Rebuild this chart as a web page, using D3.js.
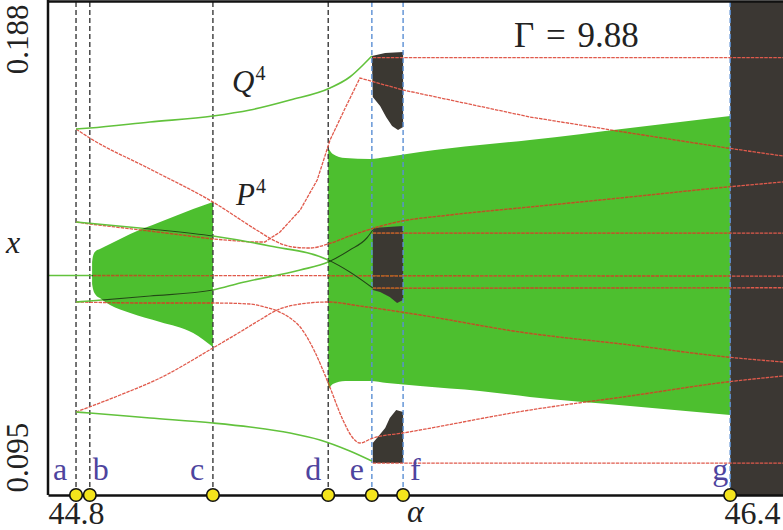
<!DOCTYPE html>
<html><head><meta charset="utf-8">
<script src="https://cdn.jsdelivr.net/npm/d3@7"></script>
<style>body{margin:0;background:#fff}svg{display:block}</style>
</head><body><svg id="c" width="783" height="530"></svg>
<script>
// ---------- data ----------
const alphaDomain = [44.8, 46.4];
const xDomain = [0.095, 0.188];
const xTickValues = [44.8, 46.4];
const yTickValues = [0.095, 0.188];
const markerNames = ["a","b","c","d","e","f","g"];
const markerAlpha = [44.861, 44.891, 45.159, 45.410, 45.505, 45.573, 46.285];
const markerBlue  = [false, false, false, false, true, true, true];
const gammaText = "Γ = 9.88";

// quasi-periodic band b–c
const band1Alpha = [44.896, 44.898, 44.904, 44.913, 44.935, 44.979, 45.044, 45.116, 45.159];
const band1Upper = [0.13895, 0.14009, 0.14103, 0.14141, 0.14235, 0.14424, 0.14650, 0.14895, 0.15027];
const band1Lower = [0.13480, 0.13386, 0.13273, 0.13216, 0.13084, 0.12933, 0.12764, 0.12556, 0.12292];

// quasi-periodic band d–g
const band2Alpha = [45.410, 45.420, 45.447, 45.501, 45.538, 45.610, 45.740, 45.849, 46.067, 46.285];
const band2Upper = [0.16046, 0.15933, 0.15857, 0.15838, 0.15876, 0.15970, 0.16102, 0.16197, 0.16423, 0.16650];
const band2Lower = [0.11481, 0.11594, 0.11651, 0.11651, 0.11613, 0.11556, 0.11462, 0.11349, 0.11179, 0.11009];

// chaotic patches e–f
const chaosTopAlpha = [45.505, 45.534, 45.573, 45.573, 45.562, 45.549, 45.536, 45.523, 45.507];
const chaosTopX     = [0.17781, 0.17838, 0.17857, 0.16442, 0.16385, 0.16461, 0.16631, 0.16838, 0.17008];
const chaosMidAlpha = [45.507, 45.573, 45.573, 45.560, 45.544, 45.523, 45.507];
const chaosMidX     = [0.14537, 0.14574, 0.13179, 0.13122, 0.13235, 0.13329, 0.13367];
const chaosLowAlpha = [45.507, 45.573, 45.573, 45.558, 45.544, 45.534, 45.518, 45.507];
const chaosLowX     = [0.10104, 0.10104, 0.11066, 0.11103, 0.10953, 0.10764, 0.10594, 0.10481];
const chaosBandAlpha = [46.285, 46.4];

// fixed point
const fpStableAlpha = [44.8, 44.898];
const fpStableX     = [0.1364, 0.1364];
const fpUnstableAlpha = [44.898, 46.4];
const fpUnstableX     = [0.1364, 0.1363];

// stable period-4 orbit Q4
const q1Alpha = [44.861, 44.891, 45.022, 45.159, 45.240, 45.327, 45.414, 45.457, 45.490, 45.505];
const q1X     = [0.16404, 0.16423, 0.16536, 0.16650, 0.16763, 0.16951, 0.17178, 0.17385, 0.17649, 0.17781];
const q2Alpha = [44.861, 45.022, 45.159, 45.283, 45.410, 45.457, 45.507];
const q2X     = [0.14650, 0.14518, 0.14386, 0.14197, 0.13933, 0.13707, 0.13405];
const q3Alpha = [44.861, 44.891, 45.022, 45.159, 45.218, 45.349, 45.410, 45.457, 45.494, 45.507];
const q3X     = [0.13141, 0.13160, 0.13254, 0.13367, 0.13499, 0.13744, 0.13895, 0.14122, 0.14348, 0.14499];
const q4Alpha = [44.861, 44.891, 45.022, 45.159, 45.240, 45.327, 45.392, 45.457, 45.505];
const q4X     = [0.11066, 0.11047, 0.10953, 0.10858, 0.10783, 0.10670, 0.10538, 0.10330, 0.10141];

// unstable period-4 orbit P4 and other unstable branches
const p1Alpha = [44.861, 44.891, 45.022, 45.159, 45.261, 45.294, 45.333, 45.370, 45.410, 45.457, 45.560, 45.675, 45.849, 46.067, 46.278, 46.4];
const p1X     = [0.16404, 0.16234, 0.15650, 0.15027, 0.14461, 0.14291, 0.14178, 0.14159, 0.14235, 0.14386, 0.14650, 0.14782, 0.14933, 0.15122, 0.15310, 0.15405];
const p2Alpha = [44.861, 44.891, 45.022, 45.159, 45.240, 45.272, 45.305, 45.349, 45.386, 45.414, 45.447, 45.479, 45.573, 45.849, 46.067, 46.278, 46.4];
const p2X     = [0.14650, 0.14612, 0.14480, 0.14329, 0.14273, 0.14273, 0.14461, 0.14876, 0.15442, 0.16197, 0.16800, 0.17366, 0.17140, 0.16631, 0.16329, 0.16046, 0.15895];
const p3Alpha = [44.861, 45.022, 45.159, 45.240, 45.272, 45.299, 45.327, 45.349, 45.381, 45.410, 45.442, 45.462, 45.479, 45.507, 45.573, 45.849, 46.067, 46.278, 46.4];
const p3X     = [0.13141, 0.13122, 0.13122, 0.13103, 0.13046, 0.12971, 0.12839, 0.12669, 0.12198, 0.11613, 0.10915, 0.10594, 0.10481, 0.10575, 0.10670, 0.11103, 0.11368, 0.11632, 0.11745];
const p4Alpha = [44.861, 44.957, 45.044, 45.159, 45.218, 45.261, 45.299, 45.349, 45.410, 45.479, 45.610, 45.827, 46.067, 46.278, 46.4];
const p4X     = [0.11066, 0.11386, 0.11707, 0.12273, 0.12575, 0.12801, 0.12990, 0.13103, 0.13141, 0.13065, 0.12896, 0.12575, 0.12330, 0.12103, 0.12009];
const hAlpha = [45.507, 46.4];
const h1X = [0.1775, 0.1775];
const h2X = [0.1444, 0.1444];
const h3X = [0.1340, 0.1341];
const h4X = [0.1010, 0.1010];

// ---------- drawing ----------
const W = 783, H = 530;
const L = 48, R = 783, T = 2, B = 495;
const sx = d3.scaleLinear().domain(alphaDomain).range([L, R]);
const sy = d3.scaleLinear().domain(xDomain).range([B, T]);
const svg = d3.select("#c");
const serif = "'Liberation Serif','DejaVu Serif',serif";
const zip = (a, b) => a.map((v, i) => [v, b[i]]);

const GREEN_FILL = "#4dbf2f", CHAOS = "#3b3733";
const STABLE = "#62c23c", STABLE_IN = "#1f4d15";
const UNSTABLE = "#e05a4c", UNSTABLE_IN = "#a8601f";

const defs = svg.append("defs");
const area = d3.area().x(d => sx(d[0])).y0(d => sy(d[2])).y1(d => sy(d[1])).curve(d3.curveMonotoneX);
const band1 = band1Alpha.map((a, i) => [a, band1Upper[i], band1Lower[i]]);
const band2 = band2Alpha.map((a, i) => [a, band2Upper[i], band2Lower[i]]);
const cp = defs.append("clipPath").attr("id", "bands");
cp.append("path").attr("d", area(band1));
cp.append("path").attr("d", area(band2));
defs.append("filter").attr("id", "fuzz").append("feGaussianBlur").attr("stdDeviation", 0.7);

const g = svg.append("g");
g.append("path").attr("d", area(band1)).attr("fill", GREEN_FILL);
g.append("path").attr("d", area(band2)).attr("fill", GREEN_FILL);

const poly = d3.line().x(d => sx(d[0])).y(d => sy(d[1]));
[[chaosTopAlpha, chaosTopX], [chaosMidAlpha, chaosMidX], [chaosLowAlpha, chaosLowX]].forEach(([a, x]) => {
  g.append("path").attr("d", poly(zip(a, x)) + "Z").attr("fill", CHAOS).attr("filter", "url(#fuzz)");
});
g.append("rect").attr("x", sx(chaosBandAlpha[0])).attr("y", T)
  .attr("width", sx(chaosBandAlpha[1]) - sx(chaosBandAlpha[0])).attr("height", B - T).attr("fill", CHAOS);

// vertical dashed markers
markerAlpha.forEach((a, i) => {
  g.append("line").attr("x1", sx(a)).attr("x2", sx(a)).attr("y1", T).attr("y2", B)
    .attr("stroke", markerBlue[i] ? "#5b8fd4" : "#3a3a3a").attr("stroke-width", 1.4)
    .attr("stroke-dasharray", "5,3");
});

const smooth = d3.line().x(d => sx(d[0])).y(d => sy(d[1])).curve(d3.curveMonotoneX);
const lin = d3.line().x(d => sx(d[0])).y(d => sy(d[1]));

const stableLines = [[fpStableAlpha, fpStableX], [q1Alpha, q1X], [q2Alpha, q2X], [q3Alpha, q3X], [q4Alpha, q4X]];
const unstableLines = [[fpUnstableAlpha, fpUnstableX, smooth], [p1Alpha, p1X, smooth], [p2Alpha, p2X, lin],
  [p3Alpha, p3X, smooth], [p4Alpha, p4X, smooth],
  [hAlpha, h1X, lin], [hAlpha, h2X, lin], [hAlpha, h3X, lin], [hAlpha, h4X, lin]];

unstableLines.forEach(([a, x, gen]) => {
  g.append("path").attr("d", gen(zip(a, x))).attr("fill", "none")
    .attr("stroke", UNSTABLE).attr("stroke-width", 1.3).attr("stroke-dasharray", "3.5,1");
});
const inner = g.append("g").attr("clip-path", "url(#bands)");
unstableLines.forEach(([a, x, gen]) => {
  inner.append("path").attr("d", gen(zip(a, x))).attr("fill", "none")
    .attr("stroke", UNSTABLE_IN).attr("stroke-width", 1.4).attr("stroke-dasharray", "3.5,1");
});
stableLines.forEach(([a, x]) => {
  g.append("path").attr("d", smooth(zip(a, x))).attr("fill", "none")
    .attr("stroke", STABLE).attr("stroke-width", 1.6);
});
const inner2 = g.append("g").attr("clip-path", "url(#bands)");
stableLines.forEach(([a, x]) => {
  inner2.append("path").attr("d", smooth(zip(a, x))).attr("fill", "none")
    .attr("stroke", STABLE_IN).attr("stroke-width", 1.2);
});

// frame
svg.append("line").attr("x1", L).attr("x2", W).attr("y1", T - 0.5).attr("y2", T - 0.5).attr("stroke", "#111").attr("stroke-width", 2.5);
svg.append("line").attr("x1", L).attr("x2", L).attr("y1", 0).attr("y2", B).attr("stroke", "#111").attr("stroke-width", 2.5);

// x axis
const xAxis = svg.append("g").attr("transform", `translate(0,${B})`)
  .call(d3.axisBottom(sx).tickValues(xTickValues).tickSize(0).tickFormat(d3.format(".1f")));
xAxis.select(".domain").attr("stroke", "#111").attr("stroke-width", 2.5);
xAxis.selectAll("text").attr("font-family", serif).attr("font-size", 32).attr("fill", "#222")
  .attr("dy", null).attr("y", 29)
  .attr("text-anchor", (d, i) => i === 0 ? "start" : "end")
  .attr("x", (d, i) => i === 0 ? 0 : -3);

// y axis
const yAxis = svg.append("g").attr("transform", `translate(${L},0)`)
  .call(d3.axisLeft(sy).tickValues(yTickValues).tickSize(0).tickFormat(d3.format(".3f")));
yAxis.select(".domain").remove();
yAxis.selectAll(".tick text").attr("font-family", serif).attr("font-size", 31).attr("fill", "#222")
  .attr("x", null).attr("dy", null)
  .attr("text-anchor", (d, i) => i === 0 ? "start" : "end")
  .attr("transform", (d, i) => `translate(-20,${i === 0 ? -3 : 2}) rotate(-90)`);

// marker dots and letters
markerAlpha.forEach((a, i) => {
  svg.append("circle").attr("cx", sx(a)).attr("cy", B).attr("r", 6.3)
    .attr("fill", "#f4e41c").attr("stroke", "#111").attr("stroke-width", 1.6);
});
const letterDx = [-23, 3, -23, -23, -22, 7, -18];
markerNames.forEach((n, i) => {
  svg.append("text").attr("x", sx(markerAlpha[i]) + letterDx[i]).attr("y", 480)
    .attr("font-family", serif).attr("font-size", 32).attr("fill", "#4e449e").text(n);
});

// labels
svg.append("text").attr("x", 6).attr("y", 253).attr("font-family", serif).attr("font-style", "italic")
  .attr("font-size", 32).attr("fill", "#222").text("x");
svg.append("text").attr("x", 407).attr("y", 522).attr("font-family", serif).attr("font-style", "italic")
  .attr("font-size", 32).attr("fill", "#222").text("α");
svg.append("text").attr("x", 514).attr("y", 47).attr("font-family", serif)
  .attr("font-size", 35).attr("word-spacing", 3).attr("fill", "#222").text(gammaText);
const lab = (x, y, s) => {
  const t = svg.append("text").attr("x", x).attr("y", y).attr("font-family", serif).attr("fill", "#222");
  t.append("tspan").attr("font-style", "italic").attr("font-size", 31).text(s);
  t.append("tspan").attr("font-size", 20).attr("dy", -12).attr("dx", 1).text("4");
};
lab(232, 92, "Q");
lab(236, 205, "P");
</script></body></html>
